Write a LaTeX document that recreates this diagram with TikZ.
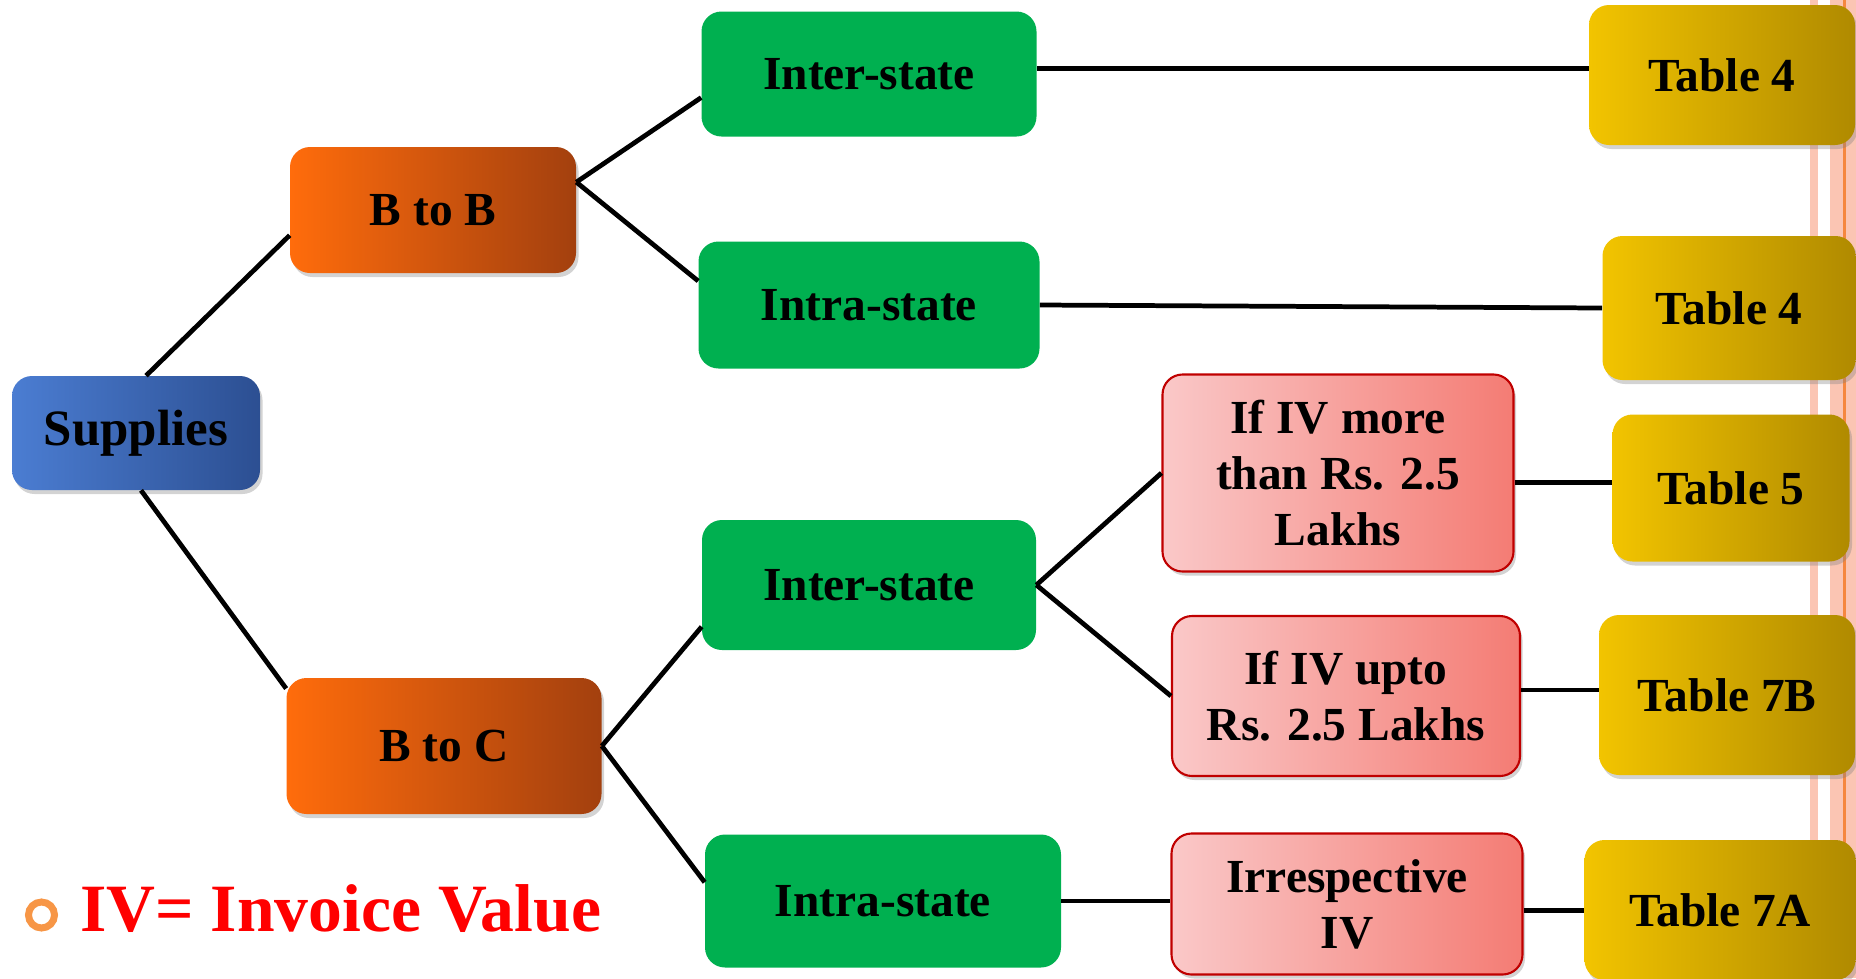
\documentclass[tikz,border=0pt]{standalone}
\usepackage{fontspec}
\setmainfont{Liberation Serif}
\usetikzlibrary{shadows}

\definecolor{supL}{HTML}{4B7DD2}
\definecolor{supR}{HTML}{2C4F92}
\definecolor{kindL}{HTML}{FF6C0C}
\definecolor{kindR}{HTML}{A3400E}
\definecolor{stategreen}{HTML}{00B050}
\definecolor{valL}{HTML}{FAC8C8}
\definecolor{valR}{HTML}{F47C74}
\definecolor{valline}{HTML}{C00000}
\definecolor{tabL}{HTML}{F2C400}
\definecolor{tabR}{HTML}{B08A00}
\definecolor{stripe}{HTML}{FBC5B3}
\definecolor{stripeline}{HTML}{F5873F}
\definecolor{ringorange}{HTML}{F79646}

\begin{document}
\begin{tikzpicture}[
    x=0.02cm, y=-0.02cm,
    wh/.style 2 args={minimum width=#1*0.02cm, minimum height=#2*0.02cm},
    box/.style={rounded corners=0.4cm, align=center, inner sep=2pt,
      font=\bfseries\fontsize{27}{32}\selectfont},
    shadebox/.style={box, drop shadow={shadow xshift=0.05cm, shadow yshift=-0.08cm, opacity=0.35}},
    rootbox/.style={shadebox, left color=supL, right color=supR, font=\bfseries\fontsize{29}{34}\selectfont},
    kindbox/.style={shadebox, left color=kindL, right color=kindR},
    statebox/.style={box, fill=stategreen},
    valuebox/.style={shadebox, draw=valline, line width=1.2pt, left color=valL, right color=valR},
    tablebox/.style={shadebox, left color=tabL, right color=tabR},
    link/.style={line width=2.7pt}
  ]
  \useasboundingbox (0,0) rectangle (1856,978);

  % stripes at the right edge
  \fill[stripe] (1810,0) rectangle (1818,978);
  \fill[stripe] (1830,0) rectangle (1856,978);
  \fill[stripeline] (1843,0) rectangle (1846,978);

  \node[rootbox, wh={248}{114}] (supplies) at (136,433) {Supplies};
  \node[kindbox, wh={286}{126}] (btob) at (433,210) {B to B};
  \node[kindbox, wh={315}{136}] (btoc) at (444,746) {B to C};

  \node[statebox, wh={335}{125}] (interb) at (869,74) {Inter-state};
  \node[statebox, wh={341}{127}] (intrab) at (869,305) {Intra-state};
  \node[statebox, wh={334}{130}] (interc) at (869,585) {Inter-state};
  \node[statebox, wh={356}{133}] (intrac) at (883,901) {Intra-state};

  \node[valuebox, wh={351}{197}] (ivmore) at (1338,473) {If IV more\\than Rs. 2.5\\Lakhs};
  \node[valuebox, wh={348}{160}] (ivupto) at (1346,696) {If IV upto\\Rs. 2.5 Lakhs};
  \node[valuebox, wh={351}{141}] (ivany) at (1347,904) {Irrespective\\IV};

  \node[tablebox, wh={266}{140}] (tabfoura) at (1722,75) {Table 4};
  \node[tablebox, wh={253}{144}] (tabfourb) at (1729,308) {Table 4};
  \node[tablebox, wh={237}{147}] (tabfive) at (1731,488) {Table 5};
  \node[tablebox, wh={256}{160}] (tabsevenb) at (1727,695) {Table 7B};
  \node[tablebox, wh={271}{140}] (tabsevena) at (1720,910) {Table 7A};

  \draw[link] (supplies.80) -- (btob.190);
  \draw[link] (supplies.-85) -- (btoc.160);
  \draw[link] (btob.11) -- (interb.188);
  \draw[link] (btob.11) -- (intrab.172);
  \draw[link] (btoc.east) -- (interc.194);
  \draw[link] (btoc.east) -- (intrac.174);
  \draw[link] (interb.2) -- (interb.2 -| tabfoura.west);
  \draw[link] (intrab.east) -- (tabfourb.west);
  \draw[link] (interc.east) -- (ivmore.west);
  \draw[link] (interc.east) -- (ivupto.west);
  \draw[link] (intrac.east) -- (intrac.east -| ivany.west);
  \draw[link] (ivmore.-3) -- (ivmore.-3 -| tabfive.west);
  \draw[link] (ivupto.2) -- (ivupto.2 -| tabsevenb.west);
  \draw[link] (ivany.-2) -- (ivany.-2 -| tabsevena.west);

  % note at the bottom left
  \draw[ringorange, line width=0.14cm] (41.5,915) circle [radius=0.26cm];
  \node[anchor=base west, inner sep=0pt, text=red, font=\bfseries\fontsize{38.5}{46}\selectfont] (ivnote) at (80,931) {IV= Invoice Value};
\end{tikzpicture}
\end{document}
